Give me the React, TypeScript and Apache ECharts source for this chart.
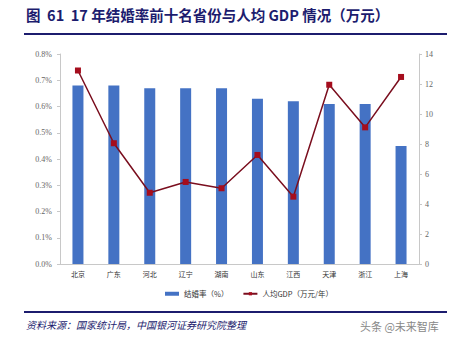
import React, { useEffect, useRef } from "react";
import * as echarts from "echarts";

const categories = ["北京", "广东", "河北", "辽宁", "湖南", "山东", "江西", "天津", "浙江", "上海"];
const marriageRate = [0.68, 0.68, 0.67, 0.67, 0.67, 0.63, 0.62, 0.61, 0.61, 0.45];
const gdpPerCapita = [12.9, 8.05, 4.75, 5.47, 5.05, 7.27, 4.49, 11.95, 9.11, 12.47];
const leftTicks = { min: 0, max: 0.8, interval: 0.1 };
const rightTicks = { min: 0, max: 14, interval: 2 };

const titleText = "图  61  17 年结婚率前十名省份与人均 GDP 情况（万元）";
const sourceText = "资料来源：国家统计局，中国银河证券研究院整理";
const barName = "结婚率（%）";
const lineName = "人均GDP（万元/年）";

export default function App() {
  const ref = useRef<HTMLDivElement>(null);
  useEffect(() => {
    if (!ref.current) return;
    const chart = echarts.init(ref.current, null, { renderer: "svg" });
    const navy = "#1c1c6e";
    const axisLabel = { color: "#666", fontSize: 8, fontFamily: "Liberation Serif" };
    chart.setOption({
      animation: false,
      backgroundColor: "#fff",
      grid: { left: 60, right: 36, top: 54, bottom: 87 },
      legend: {
        left: 160,
        top: 285,
        itemGap: 14,
        textStyle: { fontSize: 7.5, color: "#333", fontFamily: "Noto Sans CJK SC" },
        data: [
          { name: barName, icon: "rect", itemStyle: { color: "#4472C4" } },
          { name: lineName },
        ],
        itemWidth: 14,
        itemHeight: 4,
      },
      xAxis: {
        type: "category",
        data: categories,
        axisLine: { lineStyle: { color: "#c8c8c8" } },
        axisTick: { show: false },
        axisLabel: { color: "#333", fontSize: 7, fontFamily: "Noto Sans CJK SC", margin: 6 },
      },
      yAxis: [
        {
          type: "value",
          min: leftTicks.min,
          max: leftTicks.max,
          interval: leftTicks.interval,
          position: "left",
          axisLine: { show: true, lineStyle: { color: "#c8c8c8" } },
          axisTick: { show: true, length: 3, lineStyle: { color: "#c8c8c8" } },
          splitLine: { show: false },
          axisLabel: { ...axisLabel, formatter: (v: number) => v.toFixed(1) + "%" },
        },
        {
          type: "value",
          min: rightTicks.min,
          max: rightTicks.max,
          interval: rightTicks.interval,
          position: "right",
          axisLine: { show: true, lineStyle: { color: "#c8c8c8" } },
          axisTick: { show: true, length: 3, lineStyle: { color: "#c8c8c8" } },
          splitLine: { show: false },
          axisLabel: { ...axisLabel, margin: 6 },
        },
      ],
      series: [
        {
          name: barName,
          type: "bar",
          data: marriageRate,
          yAxisIndex: 0,
          barWidth: 11,
          itemStyle: { color: "#4472C4" },
        },
        {
          name: lineName,
          type: "line",
          data: gdpPerCapita,
          yAxisIndex: 1,
          symbol: "rect",
          symbolSize: 6,
          lineStyle: { color: "#7a0e1e", width: 1.5 },
          itemStyle: { color: "#a50d1d" },
        },
      ],
      graphic: [
        {
          type: "text",
          left: 26,
          top: 7,
          style: { text: titleText, fontSize: 14.5, fontWeight: "bold", fill: navy, fontFamily: "Noto Sans CJK SC" },
        },
        { type: "rect", shape: { x: 24, y: 33, width: 423, height: 2 }, style: { fill: navy } },
        { type: "rect", shape: { x: 24, y: 311, width: 423, height: 2 }, style: { fill: navy } },
        {
          type: "text",
          left: 26,
          top: 319,
          style: { text: sourceText, fontSize: 10, fontStyle: "italic", fill: navy, fontFamily: "Noto Sans CJK SC" },
        },
        {
          type: "text",
          left: 360,
          top: 320,
          style: { text: "头条 @未来智库", fontSize: 11, fill: "#888", fontFamily: "Noto Sans CJK SC" },
        },
      ],
    });
    return () => chart.dispose();
  }, []);
  return <div ref={ref} style={{ position: "fixed", left: 0, top: 0, width: 455, height: 351 }} />;
}
